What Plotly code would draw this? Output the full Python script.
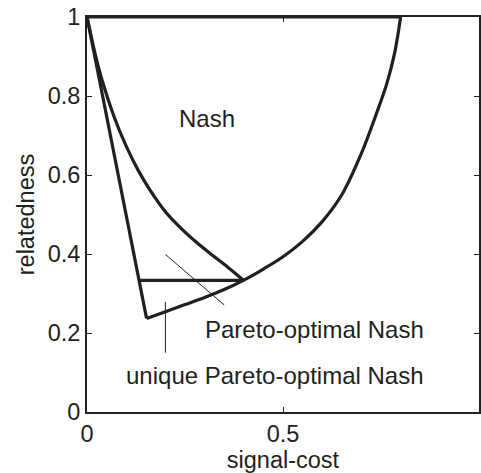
import plotly.graph_objects as go

# Region boundary: straight left edge, lower/right curve, top edge
left_edge_x = [0.0, 0.152]
left_edge_y = [1.0, 0.237]
right_curve_x = [0.152, 0.2, 0.25, 0.3, 0.35, 0.4, 0.45, 0.5, 0.55, 0.6, 0.65, 0.7, 0.74, 0.765, 0.785, 0.8]
right_curve_y = [0.237, 0.254, 0.272, 0.29, 0.31, 0.334, 0.362, 0.393, 0.432, 0.482, 0.55, 0.655, 0.76, 0.832, 0.91, 1.0]
top_edge_x = [0.0, 0.8]
top_edge_y = [1.0, 1.0]

# Inner (Nash) curve
inner_x = [0.0, 0.02, 0.04, 0.07, 0.1, 0.13, 0.16, 0.2, 0.24, 0.28, 0.32, 0.36, 0.4]
inner_y = [1.0, 0.91, 0.835, 0.745, 0.673, 0.613, 0.563, 0.507, 0.465, 0.429, 0.397, 0.366, 0.333]

# Pareto-optimal horizontal segment
pareto_x = [0.133, 0.4]
pareto_y = [0.3333, 0.3333]

# Pointer lines
pointer1_x = [0.2, 0.35]
pointer1_y = [0.399, 0.271]
pointer2_x = [0.2, 0.2]
pointer2_y = [0.279, 0.150]

labels = ["Nash", "Pareto-optimal Nash", "unique Pareto-optimal Nash"]
label_x = [0.305, 0.58, 0.48]
label_y = [0.742, 0.210, 0.093]

x_ticks = [0, 0.5, 1]
x_ticktext = ["0", "0.5", "1"]
y_ticks = [0, 0.2, 0.4, 0.6, 0.8, 1]
y_ticktext = ["0", "0.2", "0.4", "0.6", "0.8", "1"]

INK = "#231f20"
FONT = "Liberation Sans, Arial, Helvetica, sans-serif"

fig = go.Figure()
thick = dict(color=INK, width=3.2)
thin = dict(color=INK, width=1)

fig.add_trace(go.Scatter(x=left_edge_x, y=left_edge_y, mode="lines", line=thick, hoverinfo="skip"))
fig.add_trace(go.Scatter(x=right_curve_x, y=right_curve_y, mode="lines",
                         line=dict(color=INK, width=3.2, shape="spline", smoothing=1.0),
                         hoverinfo="skip"))
fig.add_trace(go.Scatter(x=top_edge_x, y=top_edge_y, mode="lines", line=thick,
                         hoverinfo="skip", cliponaxis=False))
fig.add_trace(go.Scatter(x=inner_x, y=inner_y, mode="lines",
                         line=dict(color=INK, width=3.2, shape="spline", smoothing=1.0),
                         hoverinfo="skip"))
fig.add_trace(go.Scatter(x=pareto_x, y=pareto_y, mode="lines", line=thick, hoverinfo="skip"))
fig.add_trace(go.Scatter(x=pointer1_x, y=pointer1_y, mode="lines", line=thin, hoverinfo="skip"))
fig.add_trace(go.Scatter(x=pointer2_x, y=pointer2_y, mode="lines", line=thin, hoverinfo="skip"))

for t, x, y in zip(labels, label_x, label_y):
    fig.add_annotation(x=x, y=y, text=t, showarrow=False, xanchor="center", yanchor="middle",
                       font=dict(family=FONT, size=24, color=INK))

axis_common = dict(showgrid=False, zeroline=False, showline=True, linecolor=INK, linewidth=2,
                   mirror="ticks", ticks="inside", ticklen=5, tickwidth=1, tickcolor=INK,
                   tickfont=dict(family=FONT, size=23.5, color=INK))

fig.update_layout(
    width=481, height=473,
    margin=dict(l=87, r=0, t=17, b=61),
    paper_bgcolor="white", plot_bgcolor="white",
    showlegend=False,
    xaxis=dict(range=[0, 1], tickvals=x_ticks, ticktext=x_ticktext,
               title=dict(text="signal-cost", font=dict(family=FONT, size=23.5, color=INK), standoff=4),
               **axis_common),
    yaxis=dict(range=[0, 1], tickvals=y_ticks, ticktext=y_ticktext,
               title=dict(text="relatedness", font=dict(family=FONT, size=23.5, color=INK), standoff=6),
               **axis_common),
)

fig.write_html("out.html")
